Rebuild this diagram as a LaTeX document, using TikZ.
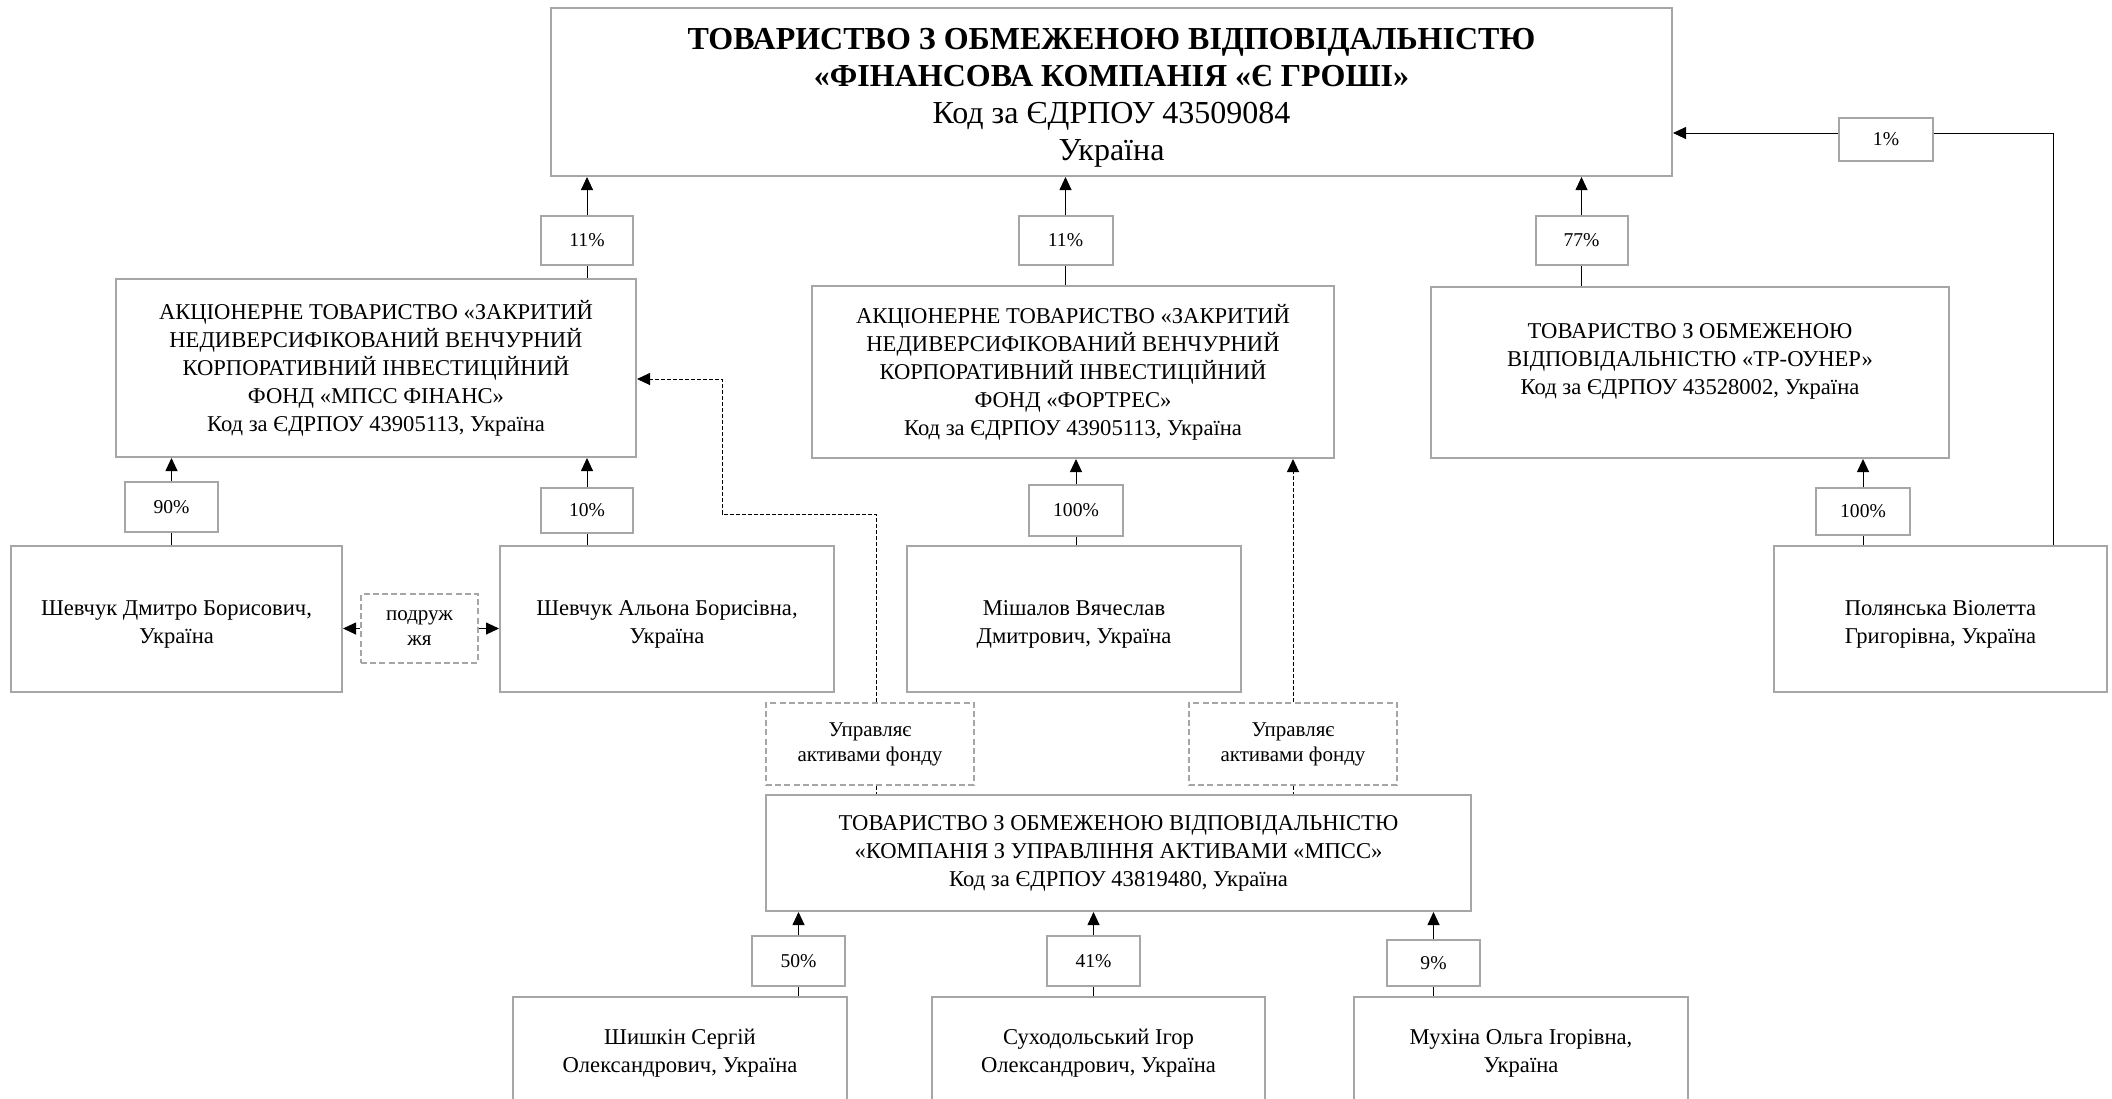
\documentclass[tikz,border=0pt]{standalone}
\usepackage{fontspec}
\setmainfont{Liberation Serif}
\usetikzlibrary{arrows.meta}
\definecolor{bordergray}{HTML}{A6A6A6}
\tikzset{
  bx/.style={draw=bordergray, line width=1pt, rectangle, inner sep=2pt, align=center, text=black,
    font=\fontsize{11.3}{14}\selectfont},
  txt/.style={inner sep=0pt, align=center, text=black, font=\fontsize{11.3}{14}\selectfont},
  pct/.style={draw=bordergray, line width=1pt, rectangle, inner sep=1pt, align=center, text=black,
    font=\fontsize{9.8}{12}\selectfont},
  dbx/.style={draw=bordergray, line width=0.9pt, dash pattern=on 3pt off 1.6pt, rectangle, inner sep=1pt,
    align=center, text=black, font=\fontsize{10.5}{12.5}\selectfont},
  conn/.style={draw=black, line width=0.45pt},
  arr/.style={conn, -{Triangle[length=6.5pt,width=6pt]}},
  dconn/.style={conn, dash pattern=on 2pt off 1pt},
  darr/.style={dconn, -{Triangle[length=6.5pt,width=6pt]}},
  sz/.style 2 args={minimum width=#1*0.5pt, minimum height=#2*0.5pt}
}
\begin{document}
\begin{tikzpicture}[x=0.5pt,y=-0.5pt]
\clip (0,0) rectangle (2112,1098);
\fill[white] (0,0) rectangle (2112,1098);

% top company
\node[bx, sz={1121}{168}] (top) at (1111.5,92) {};
\node[txt, font=\fontsize{16}{18.5}\selectfont] (topt) at (1111.5,98)
  {\textbf{ТОВАРИСТВО З ОБМЕЖЕНОЮ ВІДПОВІДАЛЬНІСТЮ}\\
   \textbf{«ФІНАНСОВА КОМПАНІЯ «Є ГРОШІ»}\\
   Код за ЄДРПОУ 43509084\\
   Україна};

% percentage labels, first level
\node[pct, sz={92}{49}] (l11a) at (587,240.5) {11\%};
\node[pct, sz={94}{49}] (l11b) at (1065.5,240.5) {11\%};
\node[pct, sz={92}{49}] (l77) at (1581.5,240.5) {77\%};
\node[pct, sz={94}{43}] (l1) at (1886,139) {1\%};

% second level
\node[bx, sz={520}{178}] (atl) at (376,368)
  {АКЦІОНЕРНЕ ТОВАРИСТВО «ЗАКРИТИЙ\\
   НЕДИВЕРСИФІКОВАНИЙ ВЕНЧУРНИЙ\\
   КОРПОРАТИВНИЙ ІНВЕСТИЦІЙНИЙ\\
   ФОНД «МПСС ФІНАНС»\\
   Код за ЄДРПОУ 43905113, Україна};
\node[bx, sz={522}{172}] (atm) at (1073,372)
  {АКЦІОНЕРНЕ ТОВАРИСТВО «ЗАКРИТИЙ\\
   НЕДИВЕРСИФІКОВАНИЙ ВЕНЧУРНИЙ\\
   КОРПОРАТИВНИЙ ІНВЕСТИЦІЙНИЙ\\
   ФОНД «ФОРТРЕС»\\
   Код за ЄДРПОУ 43905113, Україна};
\node[bx, sz={518}{171}] (tr) at (1690,372.5) {};
\node[txt] (trt) at (1690,361)
  {ТОВАРИСТВО З ОБМЕЖЕНОЮ\\
   ВІДПОВІДАЛЬНІСТЮ «ТР-ОУНЕР»\\
   Код за ЄДРПОУ 43528002, Україна};

% labels, second level
\node[pct, sz={93}{50}] (l90) at (171.5,507) {90\%};
\node[pct, sz={92}{45}] (l10) at (587,510.5) {10\%};
\node[pct, sz={94}{51}] (l100a) at (1076,510.5) {100\%};
\node[pct, sz={94}{47}] (l100b) at (1863,511.5) {100\%};

% persons, third level
\node[bx, sz={331}{146}] (shd) at (176.5,619) {};
\node[txt] (shdt) at (176.5,624) {Шевчук Дмитро Борисович,\\ Україна};
\node[dbx, sz={117}{69}] (pod) at (419.5,628.5) {подруж\\ жя};
\node[bx, sz={334}{146}] (sha) at (667,619) {};
\node[txt] (shat) at (667,624) {Шевчук Альона Борисівна,\\ Україна};
\node[bx, sz={334}{146}] (mish) at (1074,619) {};
\node[txt] (misht) at (1074,624) {Мішалов Вячеслав\\ Дмитрович, Україна};
\node[bx, sz={333}{146}] (pol) at (1940.5,619) {};
\node[txt] (polt) at (1940.5,624) {Полянська Віолетта\\ Григорівна, Україна};

% manager notes
\node[dbx, sz={208}{82}] (upr1) at (870,744) {Управляє\\ активами фонду};
\node[dbx, sz={208}{82}] (upr2) at (1293,744) {Управляє\\ активами фонду};

% asset management company
\node[bx, sz={705}{116}] (kua) at (1118.5,853)
  {ТОВАРИСТВО З ОБМЕЖЕНОЮ ВІДПОВІДАЛЬНІСТЮ\\
   «КОМПАНІЯ З УПРАВЛІННЯ АКТИВАМИ «МПСС»\\
   Код за ЄДРПОУ 43819480, Україна};

% labels, bottom level
\node[pct, sz={93}{50}] (l50) at (798.5,961) {50\%};
\node[pct, sz={93}{50}] (l41) at (1093.5,961) {41\%};
\node[pct, sz={93}{46}] (l9) at (1433.5,963) {9\%};

% bottom persons
\node[bx, sz={334}{113}] (shy) at (680,1053.5) {Шишкін Сергій\\ Олександрович, Україна};
\node[bx, sz={333}{113}] (suh) at (1098.5,1053.5) {Суходольський Ігор\\ Олександрович, Україна};
\node[bx, sz={334}{113}] (muh) at (1521,1053.5) {Мухіна Ольга Ігорівна,\\ Україна};

% ownership connectors
\draw[arr] (l11a.north) -- (l11a.north |- top.south);
\draw[conn] (atl.north -| l11a.south) -- (l11a.south);
\draw[arr] (l11b.north) -- (l11b.north |- top.south);
\draw[conn] (atm.north -| l11b.south) -- (l11b.south);
\draw[arr] (l77.north) -- (l77.north |- top.south);
\draw[conn] (tr.north -| l77.south) -- (l77.south);

\draw[arr] (l90.north) -- (l90.north |- atl.south);
\draw[conn] (shd.north -| l90.south) -- (l90.south);
\draw[arr] (l10.north) -- (l10.north |- atl.south);
\draw[conn] (sha.north -| l10.south) -- (l10.south);
\draw[arr] (l100a.north) -- (l100a.north |- atm.south);
\draw[conn] (mish.north -| l100a.south) -- (l100a.south);
\draw[arr] (l100b.north) -- (l100b.north |- tr.south);
\draw[conn] (pol.north -| l100b.south) -- (l100b.south);

\draw[arr] (l50.north) -- (l50.north |- kua.south);
\draw[conn] (shy.north -| l50.south) -- (l50.south);
\draw[arr] (l41.north) -- (l41.north |- kua.south);
\draw[conn] (suh.north -| l41.south) -- (l41.south);
\draw[arr] (l9.north) -- (l9.north |- kua.south);
\draw[conn] (muh.north -| l9.south) -- (l9.south);

% 1% route
\coordinate (p1) at (2053,133);
\draw[conn] (pol.north -| p1) -- (p1) -- (l1.east |- p1);
\draw[arr] (l1.west |- p1) -- (top.east |- p1);

% spouses
\draw[arr] (pod.west) -- (shd.east |- pod.west);
\draw[arr] (pod.east) -- (sha.west |- pod.east);

% management (dashed)
\coordinate (d1) at (876,514);
\coordinate (d2) at (722,379);
\draw[darr] (upr1.north -| d1) -- (d1) -- (d1 -| d2) -- (d2) -- (atl.east |- d2);
\draw[dconn] (upr1.south -| d1) -- (kua.north -| d1);
\draw[darr] (upr2.north) -- (upr2.north |- atm.south);
\draw[dconn] (upr2.south) -- (upr2.south |- kua.north);
\end{tikzpicture}
\end{document}
